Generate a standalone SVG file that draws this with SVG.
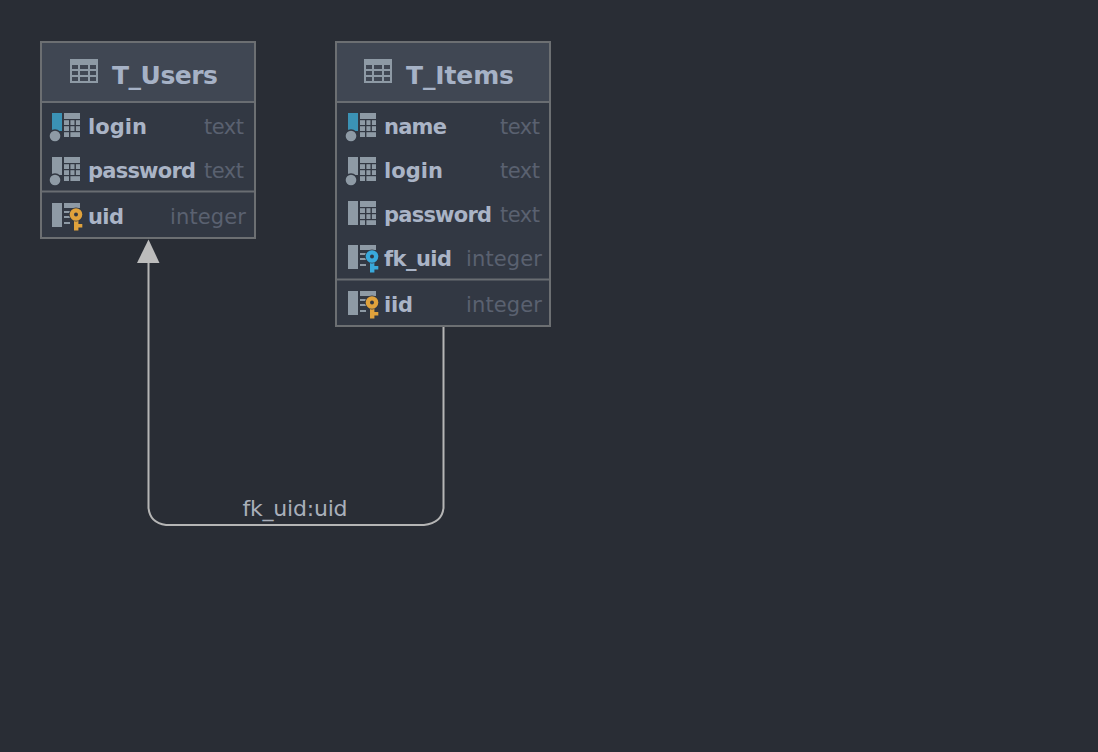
<svg xmlns="http://www.w3.org/2000/svg" width="1098" height="752" viewBox="0 0 1098 752">
<style>
.box{fill:#323843;stroke:#6c6f72;stroke-width:2}
.head{fill:#404753}
.sep{stroke:#696d72;stroke-width:2}
text{font-family:"DejaVu Sans",sans-serif}
.title{font-size:25px;font-weight:bold;fill:#a6b2c6}
.col{font-size:21px;font-weight:bold;fill:#aab4c6}
.type{font-size:21px;fill:#5a6170;text-anchor:end}
.lbl{font-size:22px;fill:#a9afba;text-anchor:middle}
.ic{fill:#8e9aa5}
.hole{fill:#323843}
</style>
<defs>
<g id="tbl"><rect class="ic" x="0" y="0" width="28" height="24"/><g fill="#404753"><rect x="2" y="6" width="6" height="4"/><rect x="10" y="6" width="8" height="4"/><rect x="20" y="6" width="6" height="4"/><rect x="2" y="12" width="6" height="4"/><rect x="10" y="12" width="8" height="4"/><rect x="20" y="12" width="6" height="4"/><rect x="2" y="18" width="6" height="4"/><rect x="10" y="18" width="8" height="4"/><rect x="20" y="18" width="6" height="4"/></g></g>
<g id="cols"><rect class="ic" x="12" y="0" width="16" height="24"/><g class="hole"><rect x="12" y="6" width="16" height="1.200"/><rect x="12" y="12" width="16" height="1.200"/><rect x="12" y="18" width="16" height="1.200"/><rect x="17" y="6" width="1.400" height="18"/><rect x="22.500" y="6" width="1.400" height="13"/></g></g>
<g id="dot"><circle cx="3" cy="23" r="6.8" fill="#323843"/><circle cx="3" cy="23" r="5.300" fill="#8e9aa5"/></g>
<g id="keybase"><rect class="ic" x="0" y="0" width="10" height="24"/><rect class="ic" x="12" y="0" width="16" height="5"/><rect class="ic" x="12" y="8" width="6" height="2"/><rect class="ic" x="12" y="13" width="6" height="2"/><rect class="ic" x="12" y="19" width="6" height="2"/></g>
<g id="key" stroke="#323843" stroke-width="1.500" paint-order="stroke"><path d="M-2 6V18.500H2.400V15.500H6.300V12H2.400V6z"/><circle cx="0" cy="2.500" r="6.300"/><circle cx="0" cy="2.500" r="2" fill="#323843" stroke="none"/></g>
</defs>
<rect width="1098" height="752" fill="#292d35"/>
<g id="connectors" fill="none">
<path d="M443.500 327V508Q442 523 424 525H166Q150 523 148.500 508V262" stroke="#b5b5b5" stroke-width="2"/>
<polygon points="148.500,239.500 159.500,263 137,263" fill="#bcbcbc"/>
<text class="lbl" x="295" y="516" stroke="none" textLength="105">fk_uid:uid</text>
</g>
<g id="T_Users">
<rect class="box" x="41" y="42" width="214" height="196"/>
<rect class="head" x="42" y="43" width="212" height="58"/>
<line class="sep" x1="42" y1="102" x2="254" y2="102"/>
<line class="sep" x1="42" y1="191.500" x2="254" y2="191.500"/>
<use href="#tbl" x="70" y="59"/>
<text class="title" x="112" y="84" textLength="106">T_Users</text>
<rect x="52" y="113" width="10" height="18" fill="#3b92b5"/><use href="#cols" x="52" y="113"/><use href="#dot" x="52" y="113"/>
<text class="col" x="88" y="134" textLength="59">login</text><text class="type" x="244" y="134" textLength="40">text</text>
<rect class="ic" x="52" y="157" width="10" height="18"/><use href="#cols" x="52" y="157"/><use href="#dot" x="52" y="157"/>
<text class="col" x="88" y="178" textLength="108">password</text><text class="type" x="244" y="178" textLength="40">text</text>
<use href="#keybase" x="52" y="203"/><use href="#key" x="76" y="212" fill="#e0a23c"/>
<text class="col" x="88" y="224" textLength="36">uid</text><text class="type" x="246" y="224" textLength="76">integer</text>
</g>
<g id="T_Items">
<rect class="box" x="336" y="42" width="214" height="284"/>
<rect class="head" x="337" y="43" width="212" height="58"/>
<line class="sep" x1="337" y1="102" x2="549" y2="102"/>
<line class="sep" x1="337" y1="279.500" x2="549" y2="279.500"/>
<use href="#tbl" x="364" y="59"/>
<text class="title" x="406" y="84" textLength="108">T_Items</text>
<rect x="348" y="113" width="10" height="18" fill="#3b92b5"/><use href="#cols" x="348" y="113"/><use href="#dot" x="348" y="113"/>
<text class="col" x="384" y="134" textLength="63">name</text><text class="type" x="540" y="134" textLength="40">text</text>
<rect class="ic" x="348" y="157" width="10" height="18"/><use href="#cols" x="348" y="157"/><use href="#dot" x="348" y="157"/>
<text class="col" x="384" y="178" textLength="59">login</text><text class="type" x="540" y="178" textLength="40">text</text>
<rect class="ic" x="348" y="201" width="10" height="24"/><use href="#cols" x="348" y="201"/>
<text class="col" x="384" y="222" textLength="108">password</text><text class="type" x="540" y="222" textLength="40">text</text>
<use href="#keybase" x="348" y="245"/><use href="#key" x="372" y="254" fill="#39a9dc"/>
<text class="col" x="384" y="266" textLength="68">fk_uid</text><text class="type" x="542" y="266" textLength="76">integer</text>
<use href="#keybase" x="348" y="291"/><use href="#key" x="372" y="300" fill="#e0a23c"/>
<text class="col" x="384" y="312" textLength="29">iid</text><text class="type" x="542" y="312" textLength="76">integer</text>
</g>
</svg>
